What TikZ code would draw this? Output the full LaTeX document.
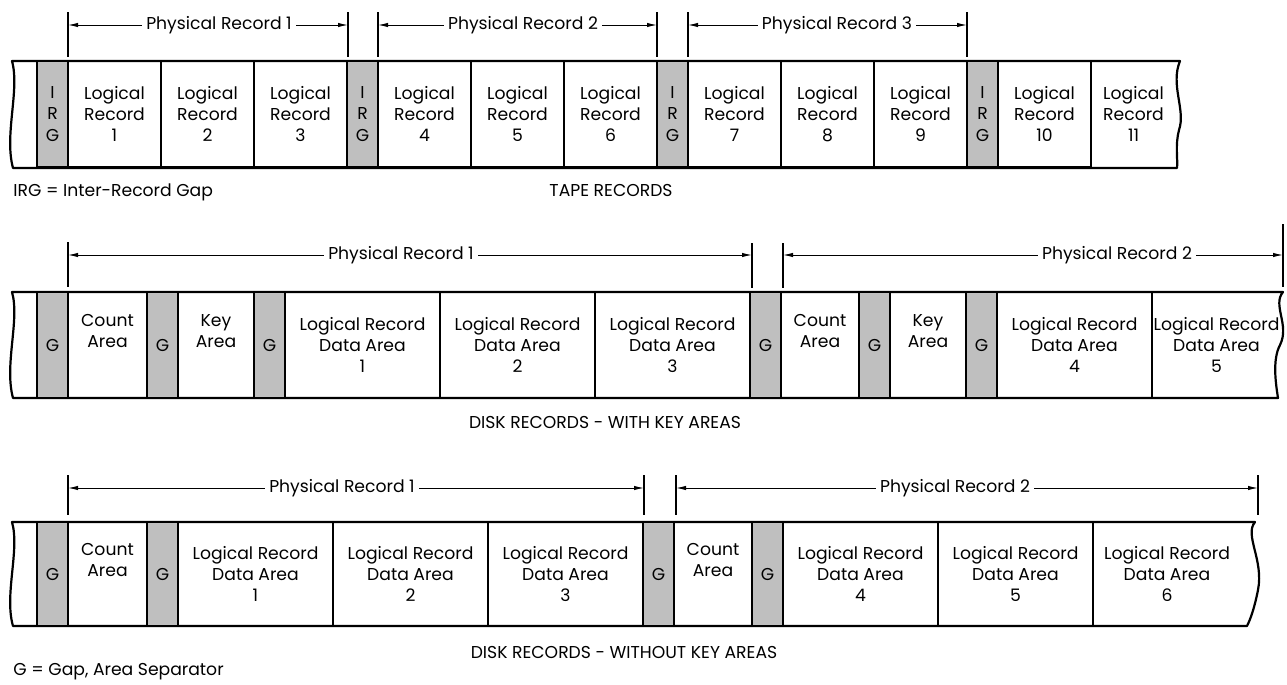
\documentclass[tikz,border=0pt]{standalone}
\usepackage{fontspec}
\setmainfont{Poppins}
\usetikzlibrary{arrows.meta, positioning}
\newcommand{\recfont}{\fontsize{8.6}{10.6}\selectfont}
\tikzset{
    reccell/.style={rectangle, draw, line width=1.1pt, minimum height=53pt, inner sep=0pt, outer sep=0pt, align=center, font=\recfont},
    recgap/.style={reccell, fill=black!25, minimum width=15.5pt},
    recopen/.style={reccell, draw=none},
    tapecell/.style={reccell, minimum width=46.5pt},
    countcell/.style={reccell, minimum width=39.5pt},
    keycell/.style={reccell, minimum width=38pt},
    datacell/.style={reccell, minimum width=77.5pt},
    recedge/.style={line width=1.1pt, line join=round},
    dimtick/.style={line width=0.9pt},
    dimarrow/.style={-{Latex[length=5pt,width=2.2pt]}, line width=0.5pt},
    dimlabel/.style={inner sep=2pt, font=\recfont},
    caption/.style={inner sep=0pt, font=\recfont}
}

\begin{document}
\begin{tikzpicture}[x=0.5pt, y=-0.5pt]
    \useasboundingbox (0,0) rectangle (1287,685);

    % Tape strip
    \draw[recedge] (13,168) .. controls (4,135) and (20,90) .. (12,61) -- (1180,61)
        .. controls (1170,85) and (1186,110) .. (1179,130)
        .. controls (1175,145) and (1178,160) .. (1177,168) -- cycle;
    \node[recgap, anchor=north west] (tg1) at (37,61) {I\\R\\G};
    \node[tapecell, right=0pt of tg1] (tl1) {Logical\\Record\\1};
    \node[tapecell, right=0pt of tl1] (tl2) {Logical\\Record\\2};
    \node[tapecell, right=0pt of tl2] (tl3) {Logical\\Record\\3};
    \node[recgap, right=0pt of tl3] (tg2) {I\\R\\G};
    \node[tapecell, right=0pt of tg2] (tl4) {Logical\\Record\\4};
    \node[tapecell, right=0pt of tl4] (tl5) {Logical\\Record\\5};
    \node[tapecell, right=0pt of tl5] (tl6) {Logical\\Record\\6};
    \node[recgap, right=0pt of tl6] (tg3) {I\\R\\G};
    \node[tapecell, right=0pt of tg3] (tl7) {Logical\\Record\\7};
    \node[tapecell, right=0pt of tl7] (tl8) {Logical\\Record\\8};
    \node[tapecell, right=0pt of tl8] (tl9) {Logical\\Record\\9};
    \node[recgap, right=0pt of tl9] (tg4) {I\\R\\G};
    \node[tapecell, right=0pt of tg4] (tl10) {Logical\\Record\\10};
    \node[recopen, minimum width=42.5pt, right=0pt of tl10] (tl11) {Logical\\Record\\11};

    % Tape physical records
    \draw[dimtick] (68,12) -- (68,57);
    \draw[dimtick] (348,12) -- (348,57);
    \draw[dimtick] (378,12) -- (378,57);
    \draw[dimtick] (657,12) -- (657,57);
    \draw[dimtick] (688,12) -- (688,57);
    \draw[dimtick] (967,12) -- (967,57);
    \coordinate (ta1) at (68,25);
    \coordinate (tb1) at (348,25);
    \coordinate (ta2) at (378,25);
    \coordinate (tb2) at (657,25);
    \coordinate (ta3) at (688,25);
    \coordinate (tb3) at (967,25);
    \node[dimlabel] (tp1) at (219,25) {Physical Record 1};
    \node[dimlabel] (tp2) at (523,25) {Physical Record 2};
    \node[dimlabel] (tp3) at (837,25) {Physical Record 3};
    \draw[dimarrow] (tp1) -- (ta1);
    \draw[dimarrow] (tp1) -- (tb1);
    \draw[dimarrow] (tp2) -- (ta2);
    \draw[dimarrow] (tp2) -- (tb2);
    \draw[dimarrow] (tp3) -- (ta3);
    \draw[dimarrow] (tp3) -- (tb3);

    \node[caption, anchor=west] (irgnote) at (13,192) {IRG = Inter-Record Gap};
    \node[caption] (tapecap) at (611,190) {TAPE RECORDS};

    % Disk strip with key areas
    \draw[recedge] (13,398) .. controls (4,365) and (20,320) .. (12,292) -- (1283,292)
        .. controls (1272,305) and (1290,325) .. (1280,345)
        .. controls (1272,360) and (1276,385) .. (1278,398) -- cycle;
    \node[recgap, anchor=north west] (kg1) at (37,292) {G};
    \node[countcell, right=0pt of kg1] (kc1) {Count\\Area\\\strut};
    \node[recgap, right=0pt of kc1] (kg2) {G};
    \node[keycell, right=0pt of kg2] (kk1) {Key\\Area\\\strut};
    \node[recgap, right=0pt of kk1] (kg3) {G};
    \node[datacell, right=0pt of kg3] (kd1) {Logical Record\\Data Area\\1};
    \node[datacell, right=0pt of kd1] (kd2) {Logical Record\\Data Area\\2};
    \node[datacell, right=0pt of kd2] (kd3) {Logical Record\\Data Area\\3};
    \node[recgap, right=0pt of kd3] (kg4) {G};
    \node[countcell, minimum width=39pt, right=0pt of kg4] (kc2) {Count\\Area\\\strut};
    \node[recgap, right=0pt of kc2] (kg5) {G};
    \node[keycell, right=0pt of kg5] (kk2) {Key\\Area\\\strut};
    \node[recgap, right=0pt of kk2] (kg6) {G};
    \node[datacell, right=0pt of kg6] (kd4) {Logical Record\\Data Area\\4};
    \node[recopen, minimum width=64.5pt, right=0pt of kd4] (kd5) {Logical Record\\Data Area\\5};

    % Physical records with key areas
    \draw[dimtick] (68,242) -- (68,287);
    \draw[dimtick] (752,243) -- (752,288);
    \draw[dimtick] (783,243) -- (783,288);
    \draw[dimtick] (1283,224) -- (1283,287);
    \coordinate (ka1) at (68,255);
    \coordinate (kb1) at (752,255);
    \coordinate (ka2) at (783,255);
    \coordinate (kb2) at (1283,255);
    \node[dimlabel] (kp1) at (401,255) {Physical Record 1};
    \node[dimlabel] (kp2) at (1117,255) {Physical Record 2};
    \draw[dimarrow] (kp1) -- (ka1);
    \draw[dimarrow] (kp1) -- (kb1);
    \draw[dimarrow] (kp2) -- (ka2);
    \draw[dimarrow] (kp2) -- (kb2);

    \node[caption] (keycap) at (605,422) {DISK RECORDS - WITH KEY AREAS};

    % Disk strip without key areas
    \draw[recedge] (13,626) .. controls (4,595) and (20,550) .. (12,522) -- (1255,522)
        .. controls (1244,535) and (1264,560) .. (1258,590)
        .. controls (1254,610) and (1250,620) .. (1247,626) -- cycle;
    \node[recgap, minimum height=52pt, anchor=north west] (ng1) at (37,522) {G};
    \node[countcell, minimum height=52pt, right=0pt of ng1] (nc1) {Count\\Area\\\strut};
    \node[recgap, minimum height=52pt, right=0pt of nc1] (ng2) {G};
    \node[datacell, minimum height=52pt, right=0pt of ng2] (nd1) {Logical Record\\Data Area\\1};
    \node[datacell, minimum height=52pt, right=0pt of nd1] (nd2) {Logical Record\\Data Area\\2};
    \node[datacell, minimum height=52pt, right=0pt of nd2] (nd3) {Logical Record\\Data Area\\3};
    \node[recgap, minimum height=52pt, right=0pt of nd3] (ng3) {G};
    \node[countcell, minimum width=39pt, minimum height=52pt, right=0pt of ng3] (nc2) {Count\\Area\\\strut};
    \node[recgap, minimum height=52pt, right=0pt of nc2] (ng4) {G};
    \node[datacell, minimum height=52pt, right=0pt of ng4] (nd4) {Logical Record\\Data Area\\4};
    \node[datacell, minimum height=52pt, right=0pt of nd4] (nd5) {Logical Record\\Data Area\\5};
    \node[recopen, minimum width=74pt, minimum height=52pt, right=0pt of nd5] (nd6) {Logical Record\\Data Area\\6};

    % Physical records without key areas
    \draw[dimtick] (68,475) -- (68,515);
    \draw[dimtick] (644,475) -- (644,515);
    \draw[dimtick] (676,475) -- (676,515);
    \draw[dimtick] (1258,475) -- (1258,515);
    \coordinate (na1) at (68,488);
    \coordinate (nb1) at (644,488);
    \coordinate (na2) at (676,488);
    \coordinate (nb2) at (1258,488);
    \node[dimlabel] (np1) at (342,488) {Physical Record 1};
    \node[dimlabel] (np2) at (955,488) {Physical Record 2};
    \draw[dimarrow] (np1) -- (na1);
    \draw[dimarrow] (np1) -- (nb1);
    \draw[dimarrow] (np2) -- (na2);
    \draw[dimarrow] (np2) -- (nb2);

    \node[caption] (nokeycap) at (624,652) {DISK RECORDS - WITHOUT KEY AREAS};
    \node[caption, anchor=west] (gapnote) at (13,672) {G = Gap, Area Separator};
\end{tikzpicture}
\end{document}
